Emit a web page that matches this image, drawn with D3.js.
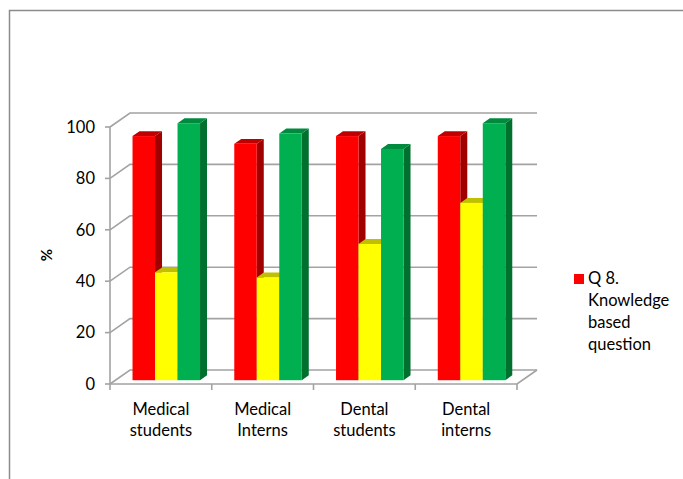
<!DOCTYPE html>
<html>
<head>
<meta charset="utf-8">
<script src="https://cdn.jsdelivr.net/npm/d3@7"></script>
<style>
  body { margin: 0; background: #fff; }
  text { font-family: Lato, "Open Sans", sans-serif; fill: #000; }
</style>
</head>
<body>
<svg id="chart" width="683" height="479"></svg>
<script>
// data
const categories = [['Medical', 'students'], ['Medical', 'Interns'], ['Dental', 'students'], ['Dental', 'interns']];
const redValues = [95, 92, 95, 95];
const yellowValues = [42, 40, 53, 69];
const greenValues = [100, 96, 90, 100];
const yTicks = [0, 20, 40, 60, 80, 100];
const legendLines = ['Q 8.', 'Knowledge', 'based', 'question'];

const series = [
    { values: redValues, front: '#ff0000', top: '#c00000', side: '#a00000' },
    { values: yellowValues, front: '#ffff00', top: '#c0c000', side: '#a0a000' },
    { values: greenValues, front: '#00b050', top: '#008a3e', side: '#00702f' }
];

const svg = d3.select('#chart');

const params = {
    left: 110,
    right: 517,
    bottom: 384,
    top: 127,
    depthX: 20,
    depthY: -14,
    barStart: 0.27,
    barDepth: 0.35,
    barWidth: 22.5,
    fontSize: 16.5,
    grid: '#a3a3a3'
};

const x = d3.scaleBand()
    .domain(d3.range(categories.length))
    .range([params.left, params.right]);

const y = d3.scaleLinear()
    .domain([0, 100])
    .range([params.bottom, params.top]);

// outer frame
svg.append('rect')
    .attr('x', 9.5)
    .attr('y', 10.5)
    .attr('width', 700)
    .attr('height', 500)
    .attr('fill', 'none')
    .attr('stroke', '#8c8c8c')
    .attr('stroke-width', 1.5);

const walls = svg.append('g')
    .attr('stroke', params.grid)
    .attr('stroke-width', 1.6)
    .attr('fill', 'none');

// back gridlines + left wall diagonals
yTicks.forEach(v => {
    walls.append('path')
        .attr('d', `M${params.left},${y(v)}L${params.left + params.depthX},${y(v) + params.depthY}` +
            `H${params.right + params.depthX}`);
    walls.append('line')
        .attr('x1', params.left - 5)
        .attr('x2', params.left)
        .attr('y1', y(v))
        .attr('y2', y(v));
});

// front value axis
walls.append('line')
    .attr('x1', params.left)
    .attr('x2', params.left)
    .attr('y1', y(0))
    .attr('y2', y(100));

// floor front edge + right edge
walls.append('path')
    .attr('d', `M${params.left},${y(0)}H${params.right}l${params.depthX},${params.depthY}`);

// category ticks
d3.range(categories.length + 1).forEach(i => {
    const xi = params.left + i * x.bandwidth();
    walls.append('line')
        .attr('x1', xi)
        .attr('x2', xi)
        .attr('y1', y(0))
        .attr('y2', y(0) + 6);
});

// bars
const bars = svg.append('g');
const shiftX = params.depthX * params.barStart;
const shiftY = params.depthY * params.barStart;
const dX = params.depthX * params.barDepth;
const dY = params.depthY * params.barDepth;

categories.forEach((c, i) => {
    const groupStart = x(i) + (x.bandwidth() - params.barWidth * series.length) / 2 + shiftX;
    series.forEach((s, j) => {
        const x0 = groupStart + j * params.barWidth;
        const x1 = x0 + params.barWidth;
        const yTop = y(s.values[i]) + shiftY;
        const yBase = y(0) + shiftY;

        bars.append('path')
            .attr('d', `M${x1},${yTop}l${dX},${dY}V${yBase + dY}l${-dX},${-dY}Z`)
            .attr('fill', s.side);
        bars.append('path')
            .attr('d', `M${x0},${yTop}l${dX},${dY}H${x1 + dX}l${-dX},${-dY}Z`)
            .attr('fill', s.top);
        bars.append('rect')
            .attr('x', x0)
            .attr('y', yTop)
            .attr('width', params.barWidth)
            .attr('height', yBase - yTop)
            .attr('fill', s.front);
    });
});

// y tick labels
svg.append('g')
    .selectAll('text')
    .data(yTicks)
    .join('text')
    .attr('x', 95)
    .attr('y', d => y(d))
    .attr('dy', '0.35em')
    .attr('text-anchor', 'end')
    .attr('font-size', params.fontSize)
    .text(d => d);

// y title
svg.append('text')
    .attr('transform', 'translate(52,255) rotate(-90)')
    .attr('text-anchor', 'middle')
    .attr('font-size', 15)
    .attr('font-weight', 'bold')
    .text('%');

// category labels
const catLabels = svg.append('g')
    .selectAll('text')
    .data(categories)
    .join('text')
    .attr('text-anchor', 'middle')
    .attr('font-size', params.fontSize);

catLabels.selectAll('tspan')
    .data((d, i) => d.map(line => ({ line, i })))
    .join('tspan')
    .attr('x', d => x(d.i) + x.bandwidth() / 2)
    .attr('y', (d, k) => 415 + k * 21)
    .text(d => d.line);

// legend
const legend = svg.append('g');
legend.append('rect')
    .attr('x', 574)
    .attr('y', 274)
    .attr('width', 10)
    .attr('height', 10)
    .attr('fill', series[0].front);

legend.append('text')
    .attr('font-size', params.fontSize)
    .selectAll('tspan')
    .data(legendLines)
    .join('tspan')
    .attr('x', 588)
    .attr('y', (d, k) => 284 + k * 22)
    .text(d => d);
</script>
</body>
</html>
